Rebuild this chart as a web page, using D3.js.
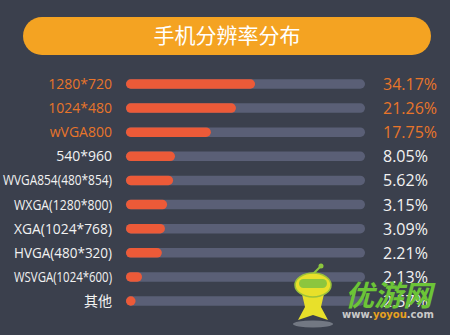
<!DOCTYPE html>
<html>
<head>
<meta charset="utf-8">
<script src="https://cdn.jsdelivr.net/npm/d3@7"></script>
<style>
  html, body { margin: 0; padding: 0; background: #3b404d; }
  svg { display: block; }
</style>
</head>
<body>
<svg id="chart"></svg>
<script>
// Chart data
const title = "手机分辨率分布";
const resolutions = [
  "1280*720", "1024*480", "wVGA800", "540*960", "WVGA854(480*854)",
  "WXGA(1280*800)", "XGA(1024*768)", "HVGA(480*320)", "WSVGA(1024*600)", "其他"
];
const shares = [34.17, 21.26, 17.75, 8.05, 5.62, 3.15, 3.09, 2.21, 2.13, 2.57];
// how full each bar is drawn in the graphic (fraction of the track)
const barLevel = [0.54, 0.46, 0.355, 0.205, 0.197, 0.172, 0.163, 0.15, 0.067, 0.04];
const highlighted = ["1280*720", "1024*480", "wVGA800"];

const W = 450, H = 335;
const svg = d3.select("#chart").attr("width", W).attr("height", H);

svg.append("rect").attr("width", W).attr("height", H).attr("fill", "#3b404d");

// Title banner
svg.append("rect")
  .attr("x", 23).attr("y", 17)
  .attr("width", 408).attr("height", 38)
  .attr("rx", 19)
  .attr("fill", "#f4a322");

svg.append("text")
  .attr("x", 227).attr("y", 43)
  .attr("text-anchor", "middle")
  .attr("fill", "#fff")
  .style("font-family", "'Noto Sans CJK SC', sans-serif")
  .style("font-size", "21px")
  .text(title);

// Scales
const y = d3.scalePoint()
  .domain(resolutions)
  .range([84, 301]);

const x = d3.scaleLinear()
  .domain([0, 1])
  .range([126, 365]);

const barH = 9.5;
const orange = "#e8752a";
const rowColor = (d) => (highlighted.includes(d) ? orange : "#f2f2f2");

const rows = svg.selectAll("g.row")
  .data(resolutions)
  .enter()
  .append("g")
  .attr("class", "row");

// Track
rows.append("rect")
  .attr("x", x(0))
  .attr("y", (d) => y(d) - barH / 2)
  .attr("width", x(1) - x(0))
  .attr("height", barH)
  .attr("rx", barH / 2)
  .attr("fill", "#5a5f76");

// Value bar
rows.append("rect")
  .attr("x", x(0))
  .attr("y", (d) => y(d) - barH / 2)
  .attr("width", (d, i) => Math.max(x(barLevel[i]) - x(0), barH))
  .attr("height", barH)
  .attr("rx", barH / 2)
  .attr("fill", "#ec5a38");

// Category labels (long ones are squeezed, as in the graphic)
rows.append("text")
  .attr("x", 112)
  .attr("y", (d) => y(d) + 5)
  .attr("text-anchor", "end")
  .attr("fill", rowColor)
  .style("font-family", "'Open Sans', 'Noto Sans CJK SC', sans-serif")
  .style("font-size", "14px")
  .text((d) => d)
  .each(function (d) {
    const len = this.getComputedTextLength();
    const max = d.length > 15 ? 109 : 98;
    if (len > max) {
      d3.select(this).attr("textLength", max).attr("lengthAdjust", "spacingAndGlyphs");
    }
  });

// Percent labels
rows.append("text")
  .attr("x", 383)
  .attr("y", (d) => y(d) + 6)
  .attr("fill", rowColor)
  .style("font-family", "'Open Sans', sans-serif")
  .style("font-size", "16px")
  .text((d, i) => shares[i].toFixed(2) + "%");

// Watermark
const wm = svg.append("g");
wm.append("ellipse").attr("cx", 313).attr("cy", 324).attr("rx", 20).attr("ry", 3.5)
  .attr("fill", "#9a9ea8").attr("opacity", 0.6);
wm.append("path")
  .attr("d", "M302,294 L313,291 L324,294 L321,307 L328,320 L313,315 L298,320 L305,307 Z")
  .attr("fill", "#e8e02a");
wm.append("line").attr("x1", 313).attr("y1", 274).attr("x2", 320).attr("y2", 267)
  .attr("stroke", "#8cc63e").attr("stroke-width", 2);
wm.append("circle").attr("cx", 321).attr("cy", 266).attr("r", 2.5).attr("fill", "#8cc63e");
wm.append("ellipse").attr("cx", 313).attr("cy", 285).attr("rx", 18).attr("ry", 12)
  .attr("fill", "#e8e02a").attr("stroke", "#9bc23a").attr("stroke-width", 1.5);
wm.append("rect").attr("x", 299).attr("y", 279).attr("width", 28).attr("height", 9)
  .attr("rx", 4.5).attr("fill", "#8cc63e");

wm.append("text")
  .attr("x", 345).attr("y", 306)
  .attr("fill", "#6cc437")
  .style("font-family", "'Noto Sans CJK SC', sans-serif")
  .style("font-weight", "bold")
  .style("font-size", "29px")
  .style("font-style", "italic")
  .text("优游网");

wm.append("text")
  .attr("x", 342).attr("y", 318)
  .attr("fill", "#c9c9c9")
  .style("font-family", "'DejaVu Sans', sans-serif")
  .style("font-weight", "bold")
  .style("font-size", "10px")
  .html('www.<tspan fill="#e8a020">yoyou</tspan>.com');
</script>
</body>
</html>
